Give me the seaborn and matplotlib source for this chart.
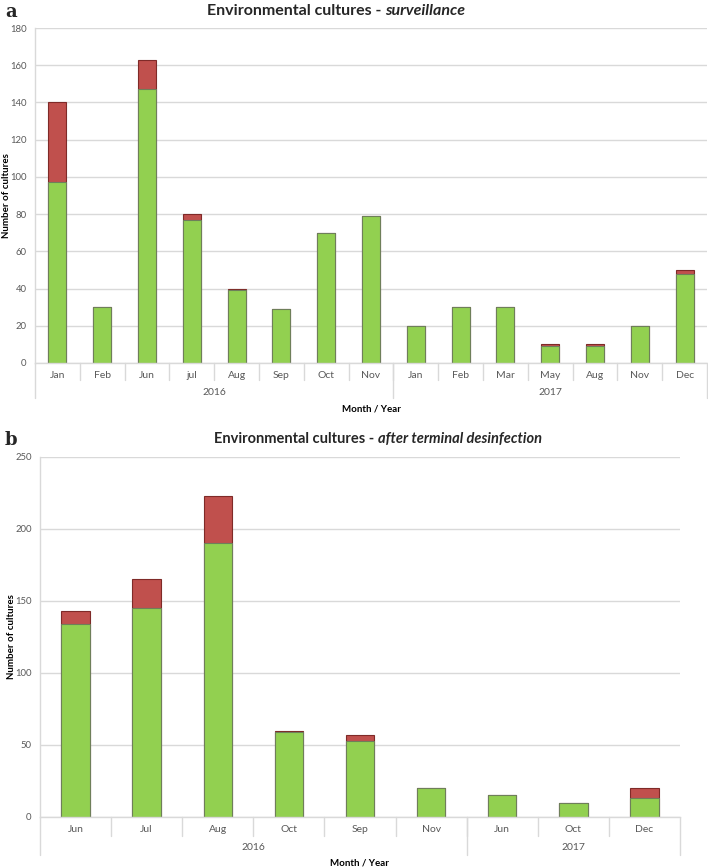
import matplotlib
matplotlib.use('Agg')
import matplotlib.pyplot as plt
import seaborn as sns
import pandas as pd

# ── Data ───────────────────────────────────────────────
months_a = ['Jan', 'Feb', 'Jun', 'jul', 'Aug', 'Sep', 'Oct', 'Nov',
            'Jan', 'Feb', 'Mar', 'May', 'Aug', 'Nov', 'Dec']
years_a = ['2016'] * 8 + ['2017'] * 7
neg_a = [97, 30, 147, 77, 39, 29, 70, 79, 20, 30, 30, 9, 9, 20, 48]
pos_a = [43, 0, 16, 3, 1, 0, 0, 0, 0, 0, 0, 1, 1, 0, 2]

months_b = ['Jun', 'Jul', 'Aug', 'Oct', 'Sep', 'Nov', 'Jun', 'Oct', 'Dec']
years_b = ['2016'] * 6 + ['2017'] * 3
neg_b = [134, 145, 190, 59, 53, 20, 15, 10, 13]
pos_b = [9, 20, 33, 1, 4, 0, 0, 0, 7]

GREEN = '#92D050'
RED = '#C0504D'
GRID = '#D9D9D9'
TXT = '#595959'

sns.set_theme(style='white')
plt.rcParams['font.family'] = ['Lato', 'DejaVu Sans']

W, H = 708, 868
fig = plt.figure(figsize=(W / 100, H / 100), dpi=100)


def px_axes(l, t, r, b):
    return fig.add_axes([l / W, (H - b) / H, (r - l) / W, (b - t) / H])


def draw_panel(ax, months, years, neg, pos, ymax, step, sub_y, yr_y, lab_y,
               sub_sep, yr_sep, ylab_x):
    n = len(months)
    df = pd.DataFrame({'idx': list(range(n)), 'neg': neg,
                       'total': [a + b for a, b in zip(neg, pos)]})
    sns.barplot(data=df, x='idx', y='total', color=RED, saturation=1,
                width=0.4, edgecolor='#7F2A28', linewidth=0.8, ax=ax)
    sns.barplot(data=df, x='idx', y='neg', color=GREEN, saturation=1,
                width=0.4, edgecolor='#6E7F5A', linewidth=0.8, ax=ax)
    ax.set_xlim(-0.5, n - 0.5)
    ax.set_ylim(0, ymax)
    ax.set_yticks(range(0, ymax + 1, step))
    ax.tick_params(axis='y', labelsize=6.8, colors=TXT, length=0, pad=6)
    ax.set_xticks(range(n))
    ax.set_xticklabels(months)
    ax.tick_params(axis='x', labelsize=7.5, colors=TXT, length=0, pad=6)
    ax.set_xlabel('')
    ax.set_ylabel('Number of cultures', fontsize=7, fontweight='bold',
                  color='black')
    ax.yaxis.set_label_coords(ylab_x, 0.5)
    ax.yaxis.grid(True, color=GRID, linewidth=1)
    ax.set_axisbelow(True)
    for s in ['top', 'right']:
        ax.spines[s].set_visible(False)
    for s in ['left', 'bottom']:
        ax.spines[s].set_color(GRID)
        ax.spines[s].set_linewidth(1)

    tr = ax.get_xaxis_transform()
    # category separators
    for i in range(1, n):
        ax.plot([i - 0.5, i - 0.5], [0, sub_sep], transform=tr, color=GRID,
                lw=1, clip_on=False)
    # year groups
    groups = []
    for i, y in enumerate(years):
        if not groups or groups[-1][0] != y:
            groups.append([y, i, i])
        else:
            groups[-1][2] = i
    edges = [-0.5] + [g[2] + 0.5 for g in groups]
    for e in edges:
        ax.plot([e, e], [0, yr_sep], transform=tr, color=GRID, lw=1,
                clip_on=False)
    for y, a, b in groups:
        ax.text((a + b) / 2, yr_y, y, transform=tr, ha='center', va='center',
                fontsize=7.5, color=TXT)
    ax.text(0.5, lab_y, 'Month / Year', transform=ax.transAxes, ha='center',
            va='center', fontsize=7, fontweight='bold', color='black')


# ── Panel a ────────────────────────────────────────────
ax1 = px_axes(35, 28, 707, 363)
draw_panel(ax1, months_a, years_a, neg_a, pos_a, 180, 20,
           -0.036, -0.087, -0.137, -0.051, -0.104, -0.035)
fig.text(385 / W, 1 - 11 / H, 'Environmental cultures - ', ha='right',
         va='center', fontsize=11.5, fontweight='bold')
fig.text(385 / W, 1 - 11 / H, 'surveillance', ha='left', va='center',
         fontsize=11.5, fontweight='bold', style='italic')
fig.text(5 / W, 1 - 12 / H, 'a', fontsize=13, fontweight='bold',
         family='DejaVu Serif', va='center')

# ── Panel b ────────────────────────────────────────────
ax2 = px_axes(40, 457, 680, 817)
draw_panel(ax2, months_b, years_b, neg_b, pos_b, 250, 50,
           -0.033, -0.086, -0.128, -0.053, -0.106, -0.0375)
fig.text(378 / W, 1 - 439 / H, 'Environmental cultures - ', ha='right',
         va='center', fontsize=10.5, fontweight='bold')
fig.text(378 / W, 1 - 439 / H, 'after terminal desinfection', ha='left',
         va='center', fontsize=10.5, fontweight='bold', style='italic')
fig.text(5 / W, 1 - 440 / H, 'b', fontsize=13, fontweight='bold',
         family='DejaVu Serif', va='center')

fig.savefig('out.png', dpi=100)
plt.close(fig)
